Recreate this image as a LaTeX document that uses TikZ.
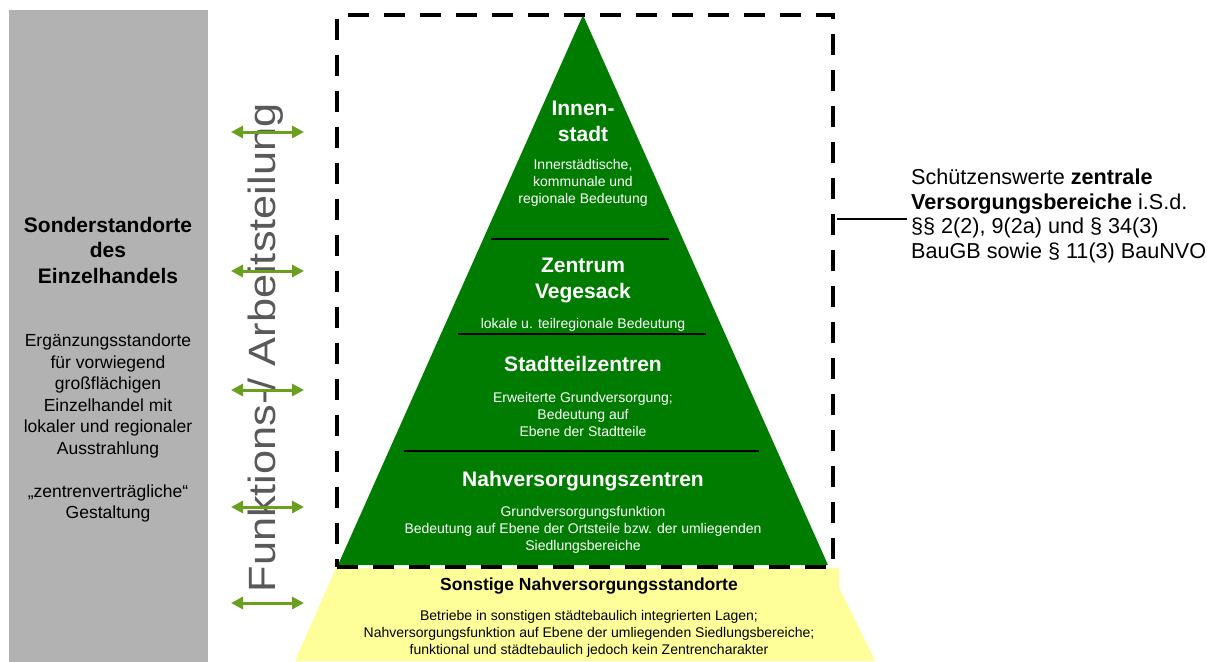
\documentclass[tikz,border=0pt]{standalone}
\usepackage{fontspec}
\setmainfont{Liberation Sans}
\usepackage{graphicx}
\usetikzlibrary{arrows.meta}
\definecolor{sidegray}{RGB}{178,178,178}
\definecolor{pyrgreen}{RGB}{0,125,0}
\definecolor{pyryellow}{RGB}{255,255,153}
\definecolor{arrgreen}{RGB}{107,160,30}
\definecolor{vtext}{RGB}{89,89,89}
\begin{document}
\begin{tikzpicture}[x=1pt,y=-1pt,
  hd/.style={font=\fontsize{21}{26}\selectfont\bfseries, text=white, align=center, inner sep=0pt},
  sm/.style={font=\fontsize{14}{17}\selectfont, text=white, align=center, inner sep=0pt},
  sidetitle/.style={font=\fontsize{21}{25.5}\selectfont\bfseries, text=black, align=center, inner sep=0pt},
  sidebody/.style={font=\fontsize{17.5}{21.5}\selectfont, text=black, align=center, inner sep=0pt},
  sepline/.style={draw=black, line width=1.5pt},
  dblarrow/.style={draw=arrgreen, line width=3pt, {Triangle[length=12pt,width=12pt]}-{Triangle[length=12pt,width=12pt]}},
  zvbbox/.style={draw=black, line width=4pt, dash pattern=on 21pt off 15pt, inner sep=0pt},
  thinline/.style={draw=black, line width=1.3pt}]
\useasboundingbox (0,0) rectangle (1212,661);
% side box
\node[fill=sidegray, minimum width=199pt, minimum height=652pt, inner sep=0pt, anchor=north west] (side) at (9,10) {};
\node[sidetitle] (sidet) at (108,250) {Sonderstandorte\\des\\Einzelhandels};
\node[sidebody] (sideb) at (108,428) {Ergänzungsstandorte\\für vorwiegend\\großflächigen\\Einzelhandel mit\\lokaler und regionaler\\Ausstrahlung\\[21.5pt]„zentrenverträgliche“\\Gestaltung};
% pyramid
\fill[pyryellow] (336,568) -- (839,568) -- (839,587) -- (875,661) -- (295,661) -- cycle;
\fill[pyrgreen] (583,15) -- (828,565) -- (338,565) -- cycle;
\draw[sepline] (491,239) -- (669,239);
\draw[sepline] (458,334) -- (706,334);
\draw[sepline] (404,451) -- (759,451);
\node[zvbbox, minimum width=496pt, minimum height=552pt, anchor=north west] (zvb) at (335,13) {};
% texts in pyramid
\node[hd] (innen) at (583,121) {Innen-\\stadt};
\node[sm] (innend) at (583,183) {Innerstädtische,\\kommunale und\\regionale Bedeutung};
\node[hd] (veg) at (583,280) {Zentrum\\Vegesack};
\node[sm] (vegd) at (583,325) {lokale u. teilregionale Bedeutung};
\node[hd] (stz) at (583,364) {Stadtteilzentren};
\node[sm] (stzd) at (583,414) {Erweiterte Grundversorgung;\\Bedeutung auf\\Ebene der Stadtteile};
\node[hd] (nvz) at (583,481) {Nahversorgungszentren};
\node[sm] (nvzd) at (583,530) {Grundversorgungsfunktion\\Bedeutung auf Ebene der Ortsteile bzw. der umliegenden\\Siedlungsbereiche};
\node[font=\fontsize{17.5}{21}\selectfont\bfseries, text=black, inner sep=0pt] (son) at (589,586) {Sonstige Nahversorgungsstandorte};
\node[sm, text=black] (sond) at (589,634) {Betriebe in sonstigen städtebaulich integrierten Lagen;\\Nahversorgungsfunktion auf Ebene der umliegenden Siedlungsbereiche;\\funktional und städtebaulich jedoch kein Zentrencharakter};
% vertical text
\node[rotate=90, anchor=base, text=vtext, font=\fontsize{38}{38}\selectfont, inner sep=0pt] (fa) at (275,348) {\scalebox{1.14}[1]{Funktions-/ Arbeitsteilung}};
% arrows
\foreach \i/\yy in {1/132,2/271,3/390,4/507,5/603}{
  \coordinate (al\i) at (231,\yy);
  \coordinate (ar\i) at (304,\yy);
  \draw[dblarrow] (al\i) -- (ar\i);
}
% right text
\node[anchor=west, align=left, font=\fontsize{21.6}{24.5}\selectfont, inner sep=0pt] (schutz) at (911,216) {Schützenswerte \textbf{zentrale}\\\textbf{Versorgungsbereiche} i.S.d.\\§§ 2(2), 9(2a) und § 34(3)\\BauGB sowie § 11(3) BauNVO};
\path (zvb.north east) ++(2,206) coordinate (cstart);
\draw[thinline] (cstart) -- ([xshift=-4pt]cstart -| schutz.west);
\end{tikzpicture}
\end{document}
